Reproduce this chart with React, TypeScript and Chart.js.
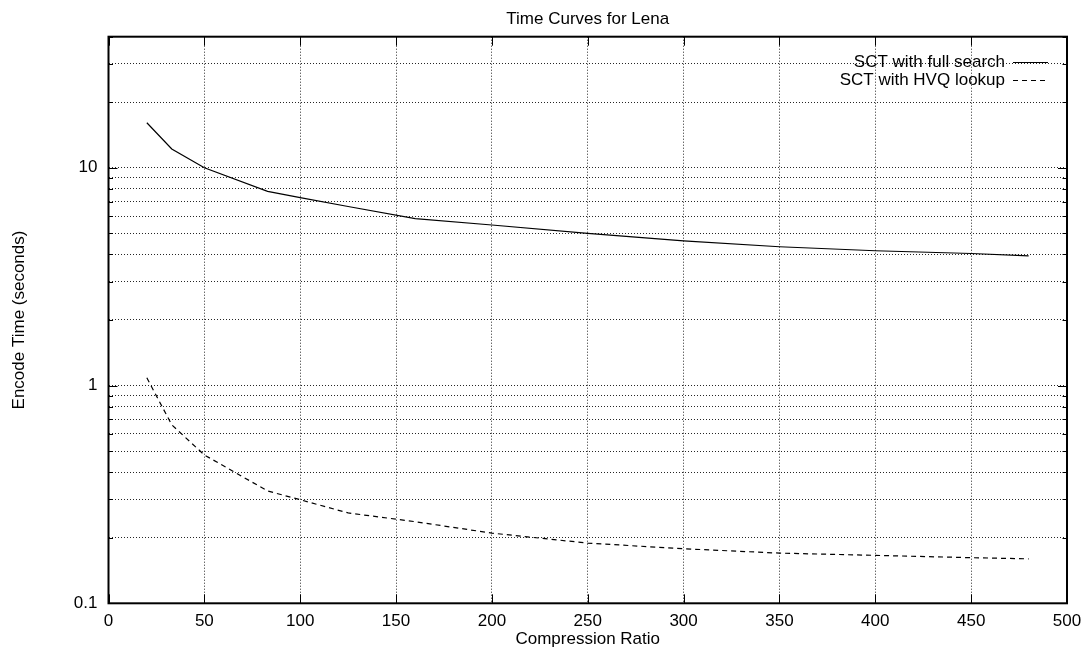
import React, { useEffect, useRef } from "react";
import { Chart, registerables } from "chart.js";

Chart.register(...registerables);

const chartTitle = "Time Curves for Lena";
const xAxisTitle = "Compression Ratio";
const yAxisTitle = "Encode Time (seconds)";

const compressionRatios = [20, 33, 50, 83, 100, 125, 160, 200, 250, 300, 350, 400, 450, 480];
const fullSearchTimes = [16.1, 12.2, 10.0, 7.8, 7.3, 6.64, 5.84, 5.46, 5.0, 4.62, 4.34, 4.16, 4.04, 3.94];
const hvqLookupTimes = [1.085, 0.66, 0.48, 0.328, 0.299, 0.26, 0.237, 0.21, 0.189, 0.178, 0.17, 0.166, 0.162, 0.16];

const seriesLabels = ["SCT with full search", "SCT with HVQ lookup"];

const xTickValues = [0, 50, 100, 150, 200, 250, 300, 350, 400, 450, 500];
const yTickValues = [
  0.1, 0.2, 0.3, 0.4, 0.5, 0.6, 0.7, 0.8, 0.9,
  1, 2, 3, 4, 5, 6, 7, 8, 9,
  10, 20, 30, 40,
];
const yMajorTicks = [0.1, 1, 10];
const yMajorLabels = ["0.1", "1", "10"];

const FONT = '"Liberation Sans", Arial, Helvetica, sans-serif';
const FONT_SIZE = 17;

const decorPlugin = {
  id: "gnuplotDecor",
  afterDraw(chart: any) {
    const { ctx, chartArea } = chart;
    const { left, right, top, bottom } = chartArea;
    const xs = chart.scales.x;
    const ys = chart.scales.y;
    ctx.save();
    ctx.setLineDash([]);
    ctx.strokeStyle = "#000";
    ctx.lineWidth = 1;
    // inward tick marks
    ctx.beginPath();
    for (const v of xTickValues) {
      const px = Math.round(xs.getPixelForValue(v)) + 0.5;
      ctx.moveTo(px, bottom);
      ctx.lineTo(px, bottom - 9);
      ctx.moveTo(px, top);
      ctx.lineTo(px, top + 9);
    }
    for (const v of yTickValues) {
      const py = Math.round(ys.getPixelForValue(v)) + 0.5;
      const len = yMajorTicks.includes(v) ? 9 : 4.5;
      ctx.moveTo(left, py);
      ctx.lineTo(left + len, py);
      ctx.moveTo(right, py);
      ctx.lineTo(right - len, py);
    }
    ctx.stroke();
    // frame
    ctx.lineWidth = 2;
    ctx.strokeRect(left, top, right - left, bottom - top);

    // titles
    ctx.fillStyle = "#000";
    ctx.font = `${FONT_SIZE}px ${FONT}`;
    ctx.textAlign = "center";
    ctx.textBaseline = "middle";
    ctx.fillText(chartTitle, (left + right) / 2, 19);
    ctx.fillText(xAxisTitle, (left + right) / 2, 639);
    ctx.save();
    ctx.translate(19, (top + bottom) / 2);
    ctx.rotate(-Math.PI / 2);
    ctx.fillText(yAxisTitle, 0, 0);
    ctx.restore();

    // legend
    const ds = chart.data.datasets;
    ctx.textAlign = "right";
    ds.forEach((d: any, i: number) => {
      const cy = 62 + i * 18;
      ctx.fillText(d.label, 1005, cy);
      ctx.beginPath();
      ctx.lineWidth = 1.2;
      ctx.setLineDash(d.borderDash || []);
      ctx.moveTo(1013, Math.round(cy) + 0.5);
      ctx.lineTo(1048, Math.round(cy) + 0.5);
      ctx.stroke();
    });
    ctx.restore();
  },
};

export default function App() {
  const canvasRef = useRef<HTMLCanvasElement | null>(null);

  useEffect(() => {
    const canvas = canvasRef.current;
    if (!canvas) return;
    const chart = new Chart(canvas, {
      type: "line",
      data: {
        datasets: [
          {
            label: seriesLabels[0],
            data: compressionRatios.map((x, i) => ({ x, y: fullSearchTimes[i] })),
            borderColor: "#000",
            borderWidth: 1.2,
            pointRadius: 0,
            tension: 0,
            fill: false,
          },
          {
            label: seriesLabels[1],
            data: compressionRatios.map((x, i) => ({ x, y: hvqLookupTimes[i] })),
            borderColor: "#000",
            borderWidth: 1.2,
            borderDash: [5, 4],
            pointRadius: 0,
            tension: 0,
            fill: false,
          },
        ],
      },
      options: {
        responsive: false,
        animation: false,
        layout: { padding: { top: 36.7, right: 19, left: 0, bottom: 0 } },
        plugins: {
          legend: { display: false },
          title: { display: false },
          tooltip: { enabled: false },
        },
        scales: {
          x: {
            type: "linear",
            min: 0,
            max: 500,
            afterBuildTicks: (scale: any) => {
              scale.ticks = xTickValues.map((v) => ({ value: v }));
            },
            afterFit: (scale: any) => {
              scale.height = 650 - 603.3;
              scale.paddingLeft = 0;
              scale.paddingRight = 0;
            },
            ticks: {
              color: "#000",
              font: { family: FONT, size: FONT_SIZE },
              padding: 8,
              maxRotation: 0,
              autoSkip: false,
              callback: (v: any) => String(v),
            },
            grid: {
              color: "rgba(0,0,0,0.85)",
              lineWidth: 1,
              drawTicks: false,
            },
            border: { display: false, dash: [1, 2] },
          },
          y: {
            type: "logarithmic",
            min: 0.1,
            max: 40,
            afterBuildTicks: (scale: any) => {
              scale.ticks = yTickValues.map((v) => ({ value: v }));
            },
            afterFit: (scale: any) => {
              scale.width = 108.5;
              scale.paddingTop = 0;
              scale.paddingBottom = 0;
            },
            ticks: {
              color: "#000",
              font: { family: FONT, size: FONT_SIZE },
              padding: 11,
              autoSkip: false,
              callback: (v: any) => {
                const idx = yMajorTicks.indexOf(Number(v));
                return idx >= 0 ? yMajorLabels[idx] : "";
              },
            },
            grid: {
              color: "rgba(0,0,0,0.85)",
              lineWidth: 1,
              drawTicks: false,
            },
            border: { display: false, dash: [1, 2] },
          },
        },
      },
      plugins: [decorPlugin],
    } as any);
    return () => chart.destroy();
  }, []);

  return (
    <div style={{ position: "fixed", left: 0, top: 0, width: 1086, height: 650, background: "#fff" }}>
      <canvas ref={canvasRef} width={1086} height={650} />
    </div>
  );
}
